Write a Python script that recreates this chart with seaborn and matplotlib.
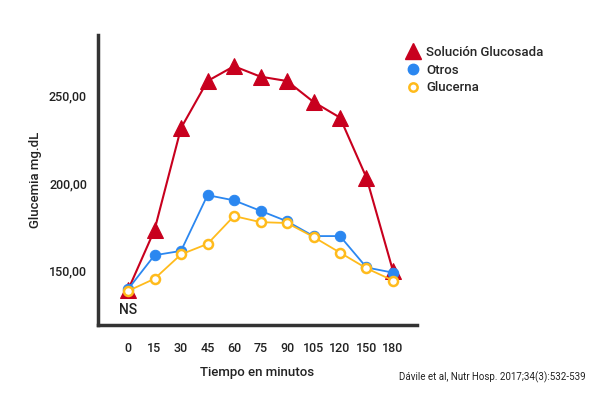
import pandas as pd
import matplotlib.pyplot as plt
import seaborn as sns
from matplotlib.lines import Line2D

# minutes after intake (categorical axis)
tiempos = ['0', '15', '30', '45', '60', '75', '90', '105', '120', '150', '180']
solucion_glucosada = [138.5, 173, 231.5, 258.5, 267, 261, 258.5, 246.5, 237.5, 203, 149.5]
otros = [139, 158.5, 161, 193, 190, 184, 178, 169.5, 169.5, 151.5, 148.5]
glucerna = [138, 145, 159, 165, 181, 177.5, 177, 169, 160, 151, 144]

df = pd.DataFrame({'pos': range(len(tiempos)),
                   'Solución Glucosada': solucion_glucosada,
                   'Otros': otros,
                   'Glucerna': glucerna})

sns.set_style('white')
plt.rcParams['font.family'] = ['Roboto', 'DejaVu Sans']

fig = plt.figure(figsize=(6.13, 3.96), dpi=100)
ax = fig.add_axes([0.160, 0.179, 0.520, 0.733])

red = '#c8001e'
blue = '#2b87f0'
yellow = '#ffbb1c'

sns.lineplot(data=df, x='pos', y='Solución Glucosada', ax=ax, color=red, lw=1.5,
             marker='^', markersize=12, markeredgecolor=red)
sns.lineplot(data=df, x='pos', y='Otros', ax=ax, color=blue, lw=1.3,
             marker='o', markersize=7.5, markeredgecolor=blue)
sns.lineplot(data=df, x='pos', y='Glucerna', ax=ax, color=yellow, lw=1.3,
             marker='o', markersize=6.5, markerfacecolor='white',
             markeredgecolor=yellow, markeredgewidth=1.8)

ax.set_xlim(-1.13, 10.9)
ax.set_ylim(118.4, 285)
ax.set_xticks(range(len(tiempos)))
ax.set_xticklabels(tiempos)
ax.set_yticks([150, 200, 250])
ax.set_yticklabels(['150,00', '200,00', '250,00'])
ax.tick_params(axis='both', length=0, labelsize=9, colors='#222222', pad=12)
ax.tick_params(axis='y', pad=8)
for lab in ax.get_xticklabels() + ax.get_yticklabels():
    lab.set_fontweight('medium')

for side in ['top', 'right']:
    ax.spines[side].set_visible(False)
for side in ['left', 'bottom']:
    ax.spines[side].set_color('#333333')
    ax.spines[side].set_linewidth(2.5)

ax.set_xlabel('Tiempo en minutos', fontsize=9.5, color='#222222', labelpad=8,
              fontweight='medium')
ax.set_ylabel('Glucemia mg.dL', fontsize=9.5, color='#222222', labelpad=5,
              fontweight='medium')

ax.text(0, 127, 'NS', ha='center', va='center', fontsize=10, color='#222222',
        fontweight='medium')

handles = [
    Line2D([], [], ls='none', marker='^', markersize=12, color=red),
    Line2D([], [], ls='none', marker='o', markersize=7.5, color=blue),
    Line2D([], [], ls='none', marker='o', markersize=6, markerfacecolor='white',
           markeredgecolor=yellow, markeredgewidth=1.8),
]
ax.legend(handles, ['Solución Glucosada', 'Otros', 'Glucerna'],
          loc='upper left', bbox_to_anchor=(0.95, 0.98), frameon=False,
          prop={'size': 9.5, 'weight': 'medium'}, handlelength=1,
          handletextpad=0.5, labelspacing=0.35, borderaxespad=0)

fig.text(0.955, 0.048, 'Dávile et al, Nutr Hosp. 2017;34(3):532-539',
         ha='right', va='center', fontsize=7, color='#222222')

fig.savefig('out.png', dpi=100)
